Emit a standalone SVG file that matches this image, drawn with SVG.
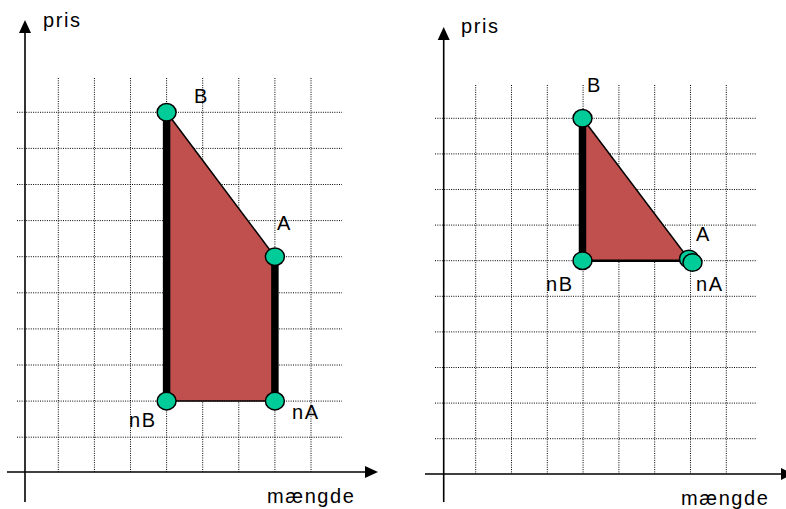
<svg xmlns="http://www.w3.org/2000/svg" width="786" height="509" viewBox="0 0 786 509">
<defs>
<style>
.grid{stroke:#000;stroke-width:1;stroke-dasharray:1,1.3;fill:none}
.axis{stroke:#000;stroke-width:1.6;fill:none}
.head{fill:#000}
.area{fill:#C0504D;stroke:none}
.thin{stroke:#000;stroke-width:1.5;fill:none}
.thick{stroke:#000;stroke-width:7.5;fill:none}
.pt{fill:#00CC99;stroke:#000;stroke-width:1.5}
text{font-family:"Liberation Sans",Arial,sans-serif;font-size:20px;fill:#000;letter-spacing:1.6px}
</style>
</defs>
<rect width="786" height="509" fill="#fff"/>
<!-- left chart -->
<g id="left-grid">
<path class="grid" d="M58.3,78V472M94.4,78V472M130.5,78V472M166.6,78V472M202.7,78V472M238.8,78V472M274.9,78V472M311,78V472"/>
<path class="grid" d="M17,112.3H342M17,148.4H342M17,184.5H342M17,220.6H342M17,256.7H342M17,292.8H342M17,328.9H342M17,365H342M17,401.1H342M17,437.2H342"/>
</g>
<g id="left-axes">
<line class="axis" x1="25" y1="502" x2="25" y2="30"/>
<polygon class="head" points="25,20 19,33 31,33"/>
<line class="axis" x1="7" y1="472" x2="368" y2="472"/>
<polygon class="head" points="378,472 365,466 365,478"/>
<text x="43" y="27">pris</text>
<text x="267" y="503">mængde</text>
</g>
<g id="left-area">
<polygon class="area" points="166.6,112.3 274.9,256.7 274.9,401.1 166.6,401.1"/>
</g>
<g id="left-connectors">
<line class="thin" x1="166.6" y1="112.3" x2="274.9" y2="256.7"/>
<line class="thin" x1="166.6" y1="401.1" x2="274.9" y2="401.1"/>
<line class="thick" x1="166.6" y1="112.3" x2="166.6" y2="401.1"/>
<line class="thick" x1="274.9" y1="256.7" x2="274.9" y2="401.1"/>
</g>
<g id="left-B"><ellipse class="pt" cx="166.6" cy="112.3" rx="9.5" ry="8.8"/><text x="194" y="103">B</text></g>
<g id="left-A"><ellipse class="pt" cx="274.9" cy="256.7" rx="9.5" ry="8.8"/><text x="277" y="230">A</text></g>
<g id="left-nB"><ellipse class="pt" cx="166.6" cy="401.1" rx="9.5" ry="8.8"/><text x="129" y="427">nB</text></g>
<g id="left-nA"><ellipse class="pt" cx="274.9" cy="401.1" rx="9.5" ry="8.8"/><text x="292" y="419">nA</text></g>
<!-- right chart -->
<g id="right-grid">
<path class="grid" d="M475.7,85V474M511.5,85V474M547.3,85V474M583.1,85V474M618.9,85V474M654.7,85V474M690.5,85V474M726.3,85V474"/>
<path class="grid" d="M435,118.3H756M435,153.9H756M435,189.5H756M435,225.1H756M435,260.7H756M435,296.3H756M435,331.9H756M435,367.5H756M435,403.1H756M435,438.7H756"/>
</g>
<g id="right-axes">
<line class="axis" x1="443.7" y1="502" x2="443.7" y2="37"/>
<polygon class="head" points="443.7,27 437.7,40 449.7,40"/>
<line class="axis" x1="425" y1="474" x2="784" y2="474"/>
<polygon class="head" points="793,474 781,468 781,480"/>
<text x="461" y="33">pris</text>
<text x="681" y="505">mængde</text>
</g>
<g id="right-area">
<polygon class="area" points="582.5,118.3 690,260.7 582.5,260.7"/>
</g>
<g id="right-connectors">
<line class="thin" x1="582.5" y1="118.3" x2="690" y2="260.7"/>
<line class="thin" x1="582.5" y1="260.7" x2="690" y2="260.7" style="stroke-width:2.5"/>
<line class="thick" x1="582.5" y1="118.3" x2="582.5" y2="260.7"/>
</g>
<g id="right-B"><ellipse class="pt" cx="582.5" cy="118.3" rx="9.5" ry="8.8"/><text x="587" y="92">B</text></g>
<g id="right-nB"><ellipse class="pt" cx="582.5" cy="260.7" rx="9.5" ry="8.8"/><text x="546" y="291">nB</text></g>
<g id="right-A"><ellipse class="pt" cx="689" cy="259" rx="9.5" ry="8.8"/><text x="696" y="241">A</text></g>
<g id="right-nA"><ellipse class="pt" cx="692.5" cy="262.5" rx="9.5" ry="8.8"/><text x="696" y="291">nA</text></g>
</svg>
